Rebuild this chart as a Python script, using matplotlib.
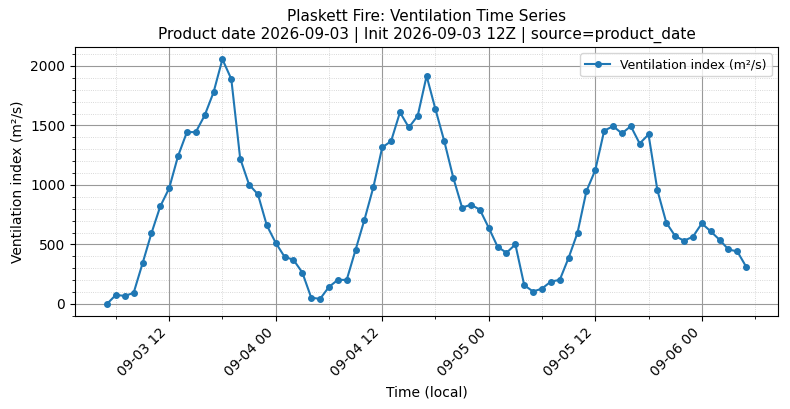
import numpy as np
import pandas as pd
import matplotlib
matplotlib.use('Agg')
import matplotlib.pyplot as plt
import matplotlib.dates as mdates
from matplotlib.ticker import MultipleLocator

# hourly ventilation index, starting 2026-09-03 05:00 local
start = '2026-09-03 05:00'
vent = [0, 76, 67, 93, 340, 593, 820, 972, 1242, 1444, 1444, 1584, 1778, 2056, 1890,
        1222, 1003, 921, 660, 514, 396, 371, 264, 53, 42, 143, 202, 202, 455, 708,
        980, 1315, 1368, 1610, 1483, 1581, 1916, 1635, 1365, 1062, 809, 834, 792, 640,
        480, 430, 500, 157, 104, 129, 188, 202, 388, 598, 947, 1124, 1455, 1494, 1433,
        1494, 1348, 1424, 955, 683, 570, 531, 565, 677, 610, 539, 458, 441, 312]
times = pd.date_range(start, periods=len(vent), freq='h')

title = ('Plaskett Fire: Ventilation Time Series\n'
         'Product date 2026-09-03 | Init 2026-09-03 12Z | source=product_date')

fig, ax = plt.subplots(figsize=(7.9, 4.09), dpi=100)
ax.plot(times, vent, marker='o', markersize=4, linewidth=1.5, color='#1f77b4',
        label='Ventilation index (m²/s)')

# ticks every 12h, minor every 6h
ax.xaxis.set_major_locator(mdates.HourLocator(byhour=[0, 12]))
ax.xaxis.set_minor_locator(mdates.HourLocator(byhour=[6, 18]))
ax.xaxis.set_major_formatter(mdates.DateFormatter('%m-%d %H'))
ax.yaxis.set_minor_locator(MultipleLocator(100))
plt.setp(ax.get_xticklabels(), rotation=45, ha='right')

ax.grid(True, which='major', color='#999999', linewidth=0.8)
ax.grid(True, which='minor', color='#cccccc', linestyle=':', linewidth=0.6)

ax.set_xlabel('Time (local)')
ax.set_ylabel('Ventilation index (m²/s)')
ax.set_title(title, fontsize=11)
ax.legend(loc='upper right', fontsize=9)

fig.subplots_adjust(left=0.095, right=0.985, top=0.885, bottom=0.227)
fig.savefig('out.png', dpi=100)
